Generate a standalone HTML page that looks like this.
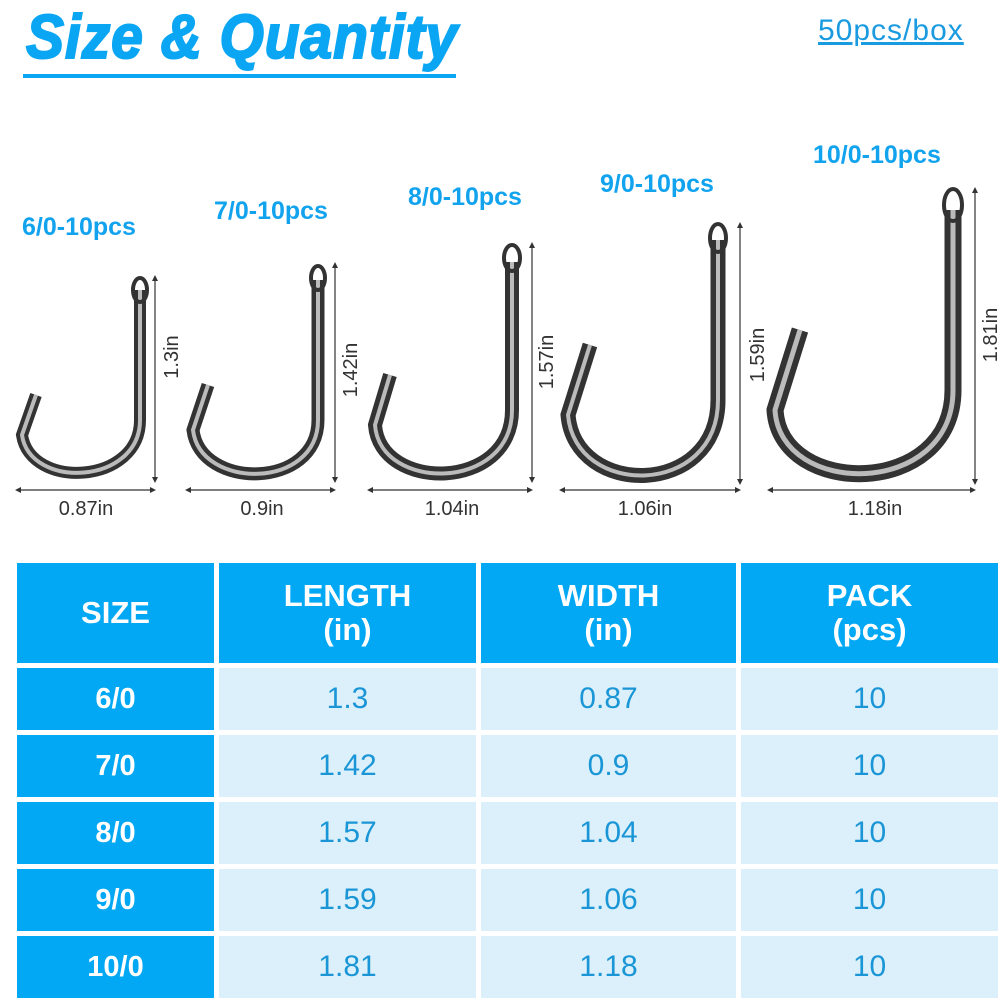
<!DOCTYPE html>
<html><head><meta charset="utf-8"><style>
body{margin:0;width:1000px;height:1000px;background:#fff;position:relative;overflow:hidden;font-family:"Liberation Sans",sans-serif}
.t{position:absolute;left:26px;top:2px;font-size:62px;font-weight:bold;font-style:italic;color:#0aa6f3;letter-spacing:1px;transform:scaleX(0.92);transform-origin:left;-webkit-text-stroke:2px #0aa6f3}
.ul{position:absolute;left:23px;top:74px;width:433px;height:4px;background:#0aa6f3}
.pcs{position:absolute;left:818px;top:14px;font-size:30px;color:#1a9be0;text-decoration:underline;letter-spacing:1px}
.lab{position:absolute;font-size:25px;font-weight:bold;color:#12a3ee;white-space:nowrap}
.c{position:absolute;display:flex;align-items:center;justify-content:center;text-align:center}
.h{background:#02a8f4;color:#fff;font-weight:bold;font-size:31px;line-height:34px}
.s{background:#02a8f4;color:#fff;font-weight:bold;font-size:29px}
.v{background:#dcf0fb;color:#1a96d6;font-size:30px}
</style></head><body>
<div class="t">Size &amp; Quantity</div><div class="ul"></div>
<div class="pcs">50pcs/box</div>
<div class="lab" style="left:22px;top:213px">6/0-10pcs</div>
<div class="lab" style="left:214px;top:197px">7/0-10pcs</div>
<div class="lab" style="left:408px;top:183px">8/0-10pcs</div>
<div class="lab" style="left:600px;top:170px">9/0-10pcs</div>
<div class="lab" style="left:813px;top:141px">10/0-10pcs</div>
<svg width="1000" height="540" style="position:absolute;left:0;top:0" font-family="Liberation Sans" font-size="20" fill="#333">
<defs><marker id="a" viewBox="0 0 10 10" refX="5" refY="5" markerWidth="5" markerHeight="5" orient="auto-start-reverse"><path d="M0,0L10,5L0,10z" fill="#333"/></marker></defs>
<g fill="none">
<path d="M140,290 L140,420 C140,485 30,490 22,435 L36,395" stroke="#333" stroke-width="12"/>
<path d="M140,290 L140,420 C140,485 30,490 22,435 L36,395" stroke="#bbb" stroke-width="4"/>
<ellipse cx="140" cy="290" rx="7" ry="12" stroke="#333" stroke-width="4"/>
<path d="M318,280 L318,420 C318,490 200,490 193,430 L208,385" stroke="#333" stroke-width="13"/>
<path d="M318,280 L318,420 C318,490 200,490 193,430 L208,385" stroke="#bbb" stroke-width="4"/>
<ellipse cx="318" cy="278" rx="7" ry="12" stroke="#333" stroke-width="4"/>
<path d="M512,262 L512,410 C512,492 380,492 375,425 L390,375" stroke="#333" stroke-width="14"/>
<path d="M512,262 L512,410 C512,492 380,492 375,425 L390,375" stroke="#bbb" stroke-width="4"/>
<ellipse cx="512" cy="258" rx="8" ry="13" stroke="#333" stroke-width="4"/>
<path d="M718,240 L718,400 C718,498 575,498 568,415 L590,345" stroke="#333" stroke-width="15"/>
<path d="M718,240 L718,400 C718,498 575,498 568,415 L590,345" stroke="#bbb" stroke-width="4"/>
<ellipse cx="718" cy="238" rx="8" ry="14" stroke="#333" stroke-width="4"/>
<path d="M953,210 L953,390 C953,498 780,498 775,410 L800,330" stroke="#333" stroke-width="17"/>
<path d="M953,210 L953,390 C953,498 780,498 775,410 L800,330" stroke="#bbb" stroke-width="5"/>
<ellipse cx="953" cy="205" rx="9" ry="16" stroke="#333" stroke-width="4"/>
</g>
<g stroke="#333" stroke-width="1.2" marker-start="url(#a)" marker-end="url(#a)">
<line x1="18" y1="490" x2="153" y2="490"/><line x1="155" y1="278" x2="155" y2="480"/>
<line x1="188" y1="490" x2="333" y2="490"/><line x1="335" y1="265" x2="335" y2="480"/>
<line x1="370" y1="490" x2="530" y2="490"/><line x1="532" y1="245" x2="532" y2="480"/>
<line x1="562" y1="490" x2="738" y2="490"/><line x1="740" y1="225" x2="740" y2="482"/>
<line x1="770" y1="490" x2="973" y2="490"/><line x1="975" y1="190" x2="975" y2="482"/>
</g>
<text x="86" y="515" text-anchor="middle">0.87in</text>
<text x="262" y="515" text-anchor="middle">0.9in</text>
<text x="452" y="515" text-anchor="middle">1.04in</text>
<text x="645" y="515" text-anchor="middle">1.06in</text>
<text x="875" y="515" text-anchor="middle">1.18in</text>
<text transform="translate(178,357) rotate(-90)" text-anchor="middle">1.3in</text>
<text transform="translate(357,370) rotate(-90)" text-anchor="middle">1.42in</text>
<text transform="translate(553,362) rotate(-90)" text-anchor="middle">1.57in</text>
<text transform="translate(764,355) rotate(-90)" text-anchor="middle">1.59in</text>
<text transform="translate(997,335) rotate(-90)" text-anchor="middle">1.81in</text>
</svg>
<div class="c h" style="left:17px;top:563px;width:197px;height:100px">SIZE</div>
<div class="c h" style="left:219px;top:563px;width:257px;height:100px">LENGTH<br>(in)</div>
<div class="c h" style="left:481px;top:563px;width:255px;height:100px">WIDTH<br>(in)</div>
<div class="c h" style="left:741px;top:563px;width:257px;height:100px">PACK<br>(pcs)</div>
<div class="c s" style="left:17px;top:668px;width:197px;height:62px">6/0</div><div class="c v" style="left:219px;top:668px;width:257px;height:62px">1.3</div><div class="c v" style="left:481px;top:668px;width:255px;height:62px">0.87</div><div class="c v" style="left:741px;top:668px;width:257px;height:62px">10</div>
<div class="c s" style="left:17px;top:735px;width:197px;height:62px">7/0</div><div class="c v" style="left:219px;top:735px;width:257px;height:62px">1.42</div><div class="c v" style="left:481px;top:735px;width:255px;height:62px">0.9</div><div class="c v" style="left:741px;top:735px;width:257px;height:62px">10</div>
<div class="c s" style="left:17px;top:802px;width:197px;height:62px">8/0</div><div class="c v" style="left:219px;top:802px;width:257px;height:62px">1.57</div><div class="c v" style="left:481px;top:802px;width:255px;height:62px">1.04</div><div class="c v" style="left:741px;top:802px;width:257px;height:62px">10</div>
<div class="c s" style="left:17px;top:869px;width:197px;height:62px">9/0</div><div class="c v" style="left:219px;top:869px;width:257px;height:62px">1.59</div><div class="c v" style="left:481px;top:869px;width:255px;height:62px">1.06</div><div class="c v" style="left:741px;top:869px;width:257px;height:62px">10</div>
<div class="c s" style="left:17px;top:936px;width:197px;height:62px">10/0</div><div class="c v" style="left:219px;top:936px;width:257px;height:62px">1.81</div><div class="c v" style="left:481px;top:936px;width:255px;height:62px">1.18</div><div class="c v" style="left:741px;top:936px;width:257px;height:62px">10</div>
</body></html>
